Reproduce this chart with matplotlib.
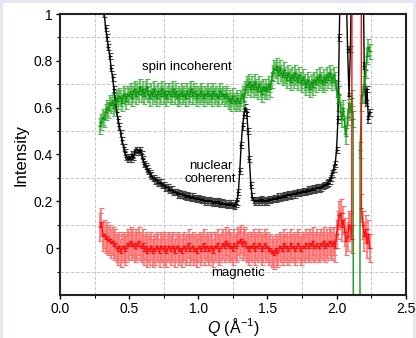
import numpy as np
import matplotlib
matplotlib.use('Agg')
import matplotlib.pyplot as plt
from matplotlib.patches import Rectangle

plt.rcParams['font.family'] = ['Liberation Sans', 'DejaVu Sans']
plt.rcParams['mathtext.fontset'] = 'custom'
plt.rcParams['mathtext.rm'] = 'Liberation Sans'
plt.rcParams['mathtext.it'] = 'Liberation Sans:italic'

# --- Donnees (Q de 0.29 a 2.24, pas 0.01) ---
Q = np.round(np.arange(0.29, 2.245, 0.01), 2)

# nuclear coherent (noir)
nuc = [1.25, 1.14, 1.06, 1.00, 0.94, 0.90, 0.86, 0.82, 0.77, 0.73,
       0.68, 0.63, 0.58, 0.55, 0.52, 0.49, 0.46, 0.43, 0.41, 0.39,
       0.38, 0.39, 0.38, 0.40, 0.39, 0.41, 0.42, 0.42, 0.41, 0.42,
       0.40, 0.38, 0.36, 0.35, 0.34, 0.33, 0.32, 0.31, 0.30, 0.30,
       0.29, 0.29, 0.28, 0.28, 0.28, 0.27, 0.27, 0.26, 0.26, 0.26,
       0.25, 0.25, 0.25, 0.24, 0.24, 0.24, 0.23, 0.235, 0.23, 0.23,
       0.23, 0.225, 0.22, 0.225, 0.22, 0.22, 0.215, 0.22, 0.215, 0.21,
       0.21, 0.215, 0.21, 0.205, 0.21, 0.205, 0.20, 0.205, 0.20, 0.205,
       0.20, 0.20, 0.195, 0.20, 0.195, 0.20, 0.195, 0.19, 0.195, 0.19,
       0.19, 0.19, 0.185, 0.19, 0.185, 0.19, 0.185, 0.18, 0.19, 0.20,
       0.24, 0.33, 0.44, 0.52, 0.57, 0.60, 0.58, 0.50, 0.38, 0.27,
       0.22, 0.205, 0.20, 0.20, 0.205, 0.20, 0.21, 0.20, 0.205, 0.20,
       0.205, 0.20, 0.21, 0.205, 0.21, 0.21, 0.215, 0.21, 0.215, 0.22,
       0.215, 0.22, 0.22, 0.225, 0.22, 0.225, 0.23, 0.225, 0.23, 0.23,
       0.235, 0.23, 0.235, 0.24, 0.235, 0.24, 0.24, 0.245, 0.24, 0.245,
       0.25, 0.245, 0.25, 0.25, 0.255, 0.25, 0.255, 0.26, 0.255, 0.26,
       0.26, 0.265, 0.27, 0.27, 0.275, 0.28, 0.29, 0.30, 0.32, 0.34,
       0.36, 0.42, 0.55, 0.90, 1.30, 1.80, 1.90, 1.50, 1.10, 0.85,
       0.65, 0.85, 1.20, 1.80, 2.20, 2.50, 2.50, 2.30, 2.00, 1.60,
       1.30, 0.78, 0.62, 0.68, 0.55, 0.58]

# spin incoherent (vert)
spin = [0.52, 0.54, 0.56, 0.55, 0.58, 0.60, 0.59, 0.62, 0.61, 0.63,
        0.60, 0.62, 0.64, 0.63, 0.65, 0.64, 0.62, 0.66, 0.65, 0.63,
        0.66, 0.65, 0.67, 0.64, 0.66, 0.68, 0.65, 0.67, 0.66, 0.69,
        0.66, 0.68, 0.65, 0.67, 0.69, 0.66, 0.64, 0.67, 0.65, 0.68,
        0.66, 0.64, 0.67, 0.65, 0.66, 0.68, 0.65, 0.67, 0.64, 0.66,
        0.67, 0.65, 0.66, 0.68, 0.65, 0.67, 0.64, 0.66, 0.65, 0.67,
        0.65, 0.66, 0.64, 0.67, 0.65, 0.66, 0.68, 0.65, 0.67, 0.66,
        0.64, 0.66, 0.65, 0.67, 0.66, 0.64, 0.66, 0.65, 0.67, 0.65,
        0.66, 0.64, 0.67, 0.65, 0.66, 0.64, 0.65, 0.67, 0.65, 0.66,
        0.64, 0.66, 0.65, 0.63, 0.64, 0.62, 0.65, 0.63, 0.62, 0.64,
        0.63, 0.62, 0.64, 0.66, 0.63, 0.68, 0.70, 0.69, 0.71, 0.68,
        0.70, 0.68, 0.71, 0.69, 0.67, 0.70, 0.68, 0.66, 0.69, 0.67,
        0.69, 0.67, 0.70, 0.68, 0.72, 0.75, 0.77, 0.76, 0.78, 0.74,
        0.77, 0.75, 0.73, 0.76, 0.74, 0.72, 0.75, 0.73, 0.71, 0.74,
        0.72, 0.75, 0.73, 0.71, 0.74, 0.72, 0.70, 0.73, 0.71, 0.69,
        0.72, 0.70, 0.68, 0.71, 0.69, 0.72, 0.70, 0.73, 0.71, 0.74,
        0.72, 0.70, 0.73, 0.71, 0.74, 0.72, 0.75, 0.73, 0.71, 0.74,
        0.72, 0.68, 0.62, 0.66, 0.58, 0.55, 0.60, 0.52, 0.48, 0.56,
        0.62, 0.58, 0.64, 0.55, -9.0, -9.0, -9.0, -9.0, 0.42, 0.62,
        0.66, 0.70, 0.76, 0.82, 0.86, 0.84]

# magnetic (rouge)
mag = [0.09, 0.11, 0.05, 0.06, 0.04, 0.05, 0.03, 0.04, 0.02, 0.03,
       0.01, 0.02, 0.00, -0.01, 0.01, -0.02, 0.00, 0.01, -0.01, 0.00,
       0.02, 0.01, 0.03, 0.01, 0.02, 0.00, 0.02, 0.01, 0.03, 0.01,
       0.00, 0.02, -0.01, 0.01, -0.02, 0.00, -0.01, 0.01, -0.02, 0.00,
       -0.01, 0.01, 0.00, -0.02, 0.01, 0.00, -0.01, 0.01, -0.02, 0.00,
       0.01, -0.01, 0.00, 0.01, -0.02, 0.00, 0.01, -0.01, 0.00, -0.02,
       0.00, 0.01, -0.01, 0.00, 0.02, -0.01, 0.00, 0.01, -0.01, 0.00,
       -0.02, 0.00, 0.01, -0.01, 0.00, 0.02, -0.01, 0.01, 0.00, -0.01,
       0.01, 0.00, -0.02, 0.01, 0.00, 0.02, -0.01, 0.00, 0.01, 0.02,
       0.00, 0.03, 0.01, 0.02, 0.00, 0.01, -0.01, 0.02, 0.00, 0.01,
       0.03, 0.02, 0.04, 0.01, 0.03, 0.02, 0.00, 0.01, -0.01, 0.01,
       0.00, 0.02, -0.01, 0.01, 0.00, 0.02, 0.01, -0.01, 0.00, 0.02,
       0.00, 0.01, -0.01, 0.00, -0.02, -0.01, -0.03, 0.00, -0.02, -0.01,
       0.01, 0.00, -0.01, 0.02, 0.00, 0.01, -0.01, 0.00, 0.02, 0.00,
       0.01, -0.01, 0.00, 0.02, 0.01, -0.01, 0.00, 0.01, 0.00, 0.02,
       0.01, 0.00, 0.02, 0.01, 0.03, 0.00, 0.01, 0.02, 0.00, 0.01,
       0.02, 0.01, 0.03, 0.00, 0.02, 0.01, 0.03, 0.02, 0.01, 0.03,
       0.00, 0.06, 0.10, 0.14, 0.15, 0.09, 0.12, 0.07, 0.03, 0.05,
       0.10, 0.09, 0.04, 9.0, 9.0, 9.0, 9.0, 9.0, 9.0, 0.17,
       0.10, 0.05, 0.08, 0.02, 0.06, 0.00]

nuc_err = 0.014
spin_err = 0.034
mag_err = 0.06

# --- Figure ---
fig = plt.figure(figsize=(4.16, 3.38), dpi=100, facecolor='#e6e6f3')
fig.patches.append(Rectangle((3/416, 0), 410/416, 335/338,
                             transform=fig.transFigure, facecolor='white',
                             edgecolor='none', zorder=-1))
ax = fig.add_axes([60/416, 43/338, 345.7/416, 281/338])

series = [(nuc, nuc_err, 'black', '#444444'),
          (spin, spin_err, '#119911', '#4fb84f'),
          (mag, mag_err, '#ff1010', '#ff6a6a')]
for y, e, c, ec in series:
    ax.errorbar(Q, y, yerr=e, color=c, ecolor=ec, lw=1.0, elinewidth=1.1,
                capsize=1.8, capthick=0.9, marker='_', ms=3, mew=0.8)

ax.text(0.92, 0.775, 'spin incoherent', ha='center', va='center',
        fontsize=9.5)
ax.text(1.09, 0.322, 'nuclear\ncoherent', ha='center', va='center',
        fontsize=9.5, linespacing=1.1)
ax.text(1.29, -0.105, 'magnetic', ha='center', va='center', fontsize=9.5)

ax.set_xlim(0, 2.5)
ax.set_ylim(-0.2, 1.0)
ax.set_xticks([0.0, 0.5, 1.0, 1.5, 2.0, 2.5])
ax.set_xticklabels(['0.0', '0.5', '1.0', '1.5', '2.0', '2.5'])
ax.set_yticks([0, 0.2, 0.4, 0.6, 0.8, 1.0])
ax.set_yticklabels(['0', '0.2', '0.4', '0.6', '0.8', '1'])
ax.set_xticks([0.25, 0.75, 1.25, 1.75, 2.25], minor=True)
ax.set_yticks([-0.1, 0.1, 0.3, 0.5, 0.7, 0.9], minor=True)
ax.grid(which='minor', ls='--', color='#c8c8c8', lw=0.7)
ax.tick_params(which='major', direction='out', length=3, width=1,
               labelsize=10, pad=2)
ax.tick_params(which='minor', direction='out', length=2, width=0.8)
for s in ax.spines.values():
    s.set_linewidth(1.5)
    s.set_color('#222222')

ax.set_xlabel(r'$\mathit{Q}$ (Å$^{-1}$)', fontsize=11.5, labelpad=0)
ax.set_ylabel('Intensity', fontsize=12, labelpad=4)

fig.savefig('out.png', dpi=100, facecolor=fig.get_facecolor())
